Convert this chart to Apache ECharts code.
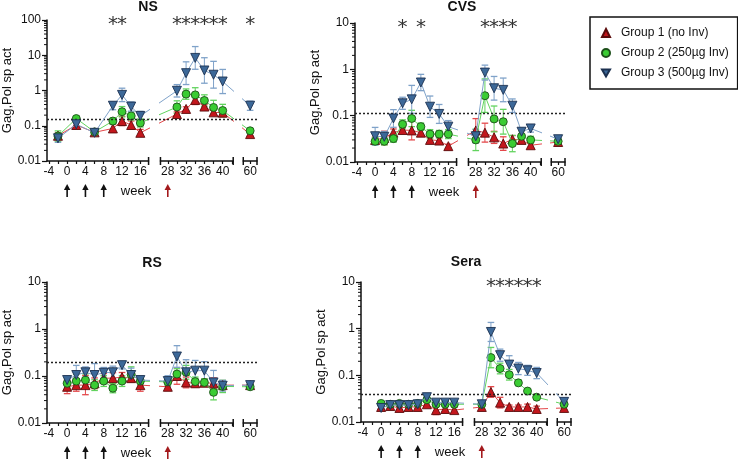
<!DOCTYPE html>
<html><head><meta charset="utf-8">
<script src="https://cdn.jsdelivr.net/npm/echarts@6/dist/echarts.min.js"></script>
<style>html,body{margin:0;padding:0;background:#fff}#c{width:738px;height:460px}</style>
</head><body><div id="c"></div>
<script>
// ---------------- DATA ----------------
const groupNames = ['Group 1 (no Inv)', 'Group 2 (250µg Inv)', 'Group 3 (500µg Inv)'];

const weeksNS = [-2, 2, 6, 10, 12, 14, 16, 30, 32, 34, 36, 38, 40, 60];
const weeksOther = [0, 2, 4, 6, 8, 10, 12, 14, 16, 28, 30, 32, 34, 36, 38, 40, 60];

// NS (means; error = multiplicative spread)
const nsG1 = [0.052, 0.105, 0.065, 0.084, 0.136, 0.105, 0.063, 0.215, 0.30, 0.54, 0.35, 0.24, 0.235, 0.058];
const nsG2 = [0.051, 0.16, 0.067, 0.136, 0.25, 0.19, 0.12, 0.34, 0.79, 0.75, 0.52, 0.33, 0.27, 0.072];
const nsG3 = [0.044, 0.11, 0.063, 0.37, 0.75, 0.35, 0.19, 0.98, 3.1, 8.4, 3.7, 2.8, 1.8, 0.37];
const nsE1 = [1.2, 1.15, 1.1, 1.3, 1.35, 1.3, 1.25, 1.15, 1.15, 1.35, 1.15, 1.2, 1.15, 1.15];
const nsE2 = [1.4, 1.15, 1.15, 1.2, 1.4, 1.3, 1.3, 1.5, 1.4, 1.6, 1.45, 1.6, 1.5, 1.15];
const nsE3 = [1.3, 1.15, 1.1, 1.3, 1.55, 1.35, 1.35, 1.5, 2.1, 2.1, 2.3, 2.4, 2.2, 1.35];

// CVS
const cvsG1 = [0.03, 0.033, 0.043, 0.049, 0.048, 0.043, 0.03, 0.029, 0.022, 0.048, 0.043, 0.034, 0.025, 0.031, 0.03, 0.023, 0.027];
const cvsG2 = [0.028, 0.028, 0.032, 0.065, 0.087, 0.058, 0.04, 0.04, 0.04, 0.03, 0.27, 0.085, 0.074, 0.025, 0.036, 0.03, 0.028];
const cvsG3 = [0.036, 0.035, 0.087, 0.185, 0.225, 0.52, 0.156, 0.109, 0.058, 0.036, 0.85, 0.39, 0.36, 0.164, 0.045, 0.053, 0.031];
const cvsE1 = [1.15, 1.4, 1.2, 1.15, 1.6, 1.15, 1.15, 1.15, 1.1, 1.8, 1.6, 1.35, 1.4, 1.2, 1.2, 1.15, 1.1];
const cvsE2 = [1.2, 1.2, 1.2, 1.25, 1.5, 1.2, 1.25, 1.2, 1.25, 1.7, 2.3, 1.9, 1.85, 1.5, 1.3, 1.2, 1.1];
const cvsE3 = [1.55, 1.3, 1.55, 1.35, 2.0, 1.5, 1.7, 1.6, 1.35, 1.4, 1.45, 1.8, 1.8, 1.4, 1.2, 1.2, 1.1];

// RS
const rsG1 = [0.059, 0.064, 0.064, 0.07, 0.09, 0.09, 0.095, 0.09, 0.064, 0.059, 0.1, 0.073, 0.07, 0.072, 0.07, 0.064, 0.064];
const rsG2 = [0.07, 0.078, 0.082, 0.064, 0.078, 0.055, 0.078, 0.108, 0.078, 0.075, 0.11, 0.12, 0.076, 0.073, 0.045, 0.06, 0.059];
const rsG3 = [0.082, 0.105, 0.12, 0.105, 0.117, 0.12, 0.17, 0.105, 0.082, 0.078, 0.26, 0.12, 0.13, 0.13, 0.073, 0.062, 0.064];
const rsE1 = [1.4, 1.35, 1.6, 1.3, 1.25, 1.3, 1.25, 1.2, 1.35, 1.2, 1.5, 1.3, 1.2, 1.2, 1.3, 1.25, 1.1];
const rsE2 = [1.25, 1.4, 1.35, 1.3, 1.3, 1.25, 1.3, 1.45, 1.2, 1.2, 1.3, 1.4, 1.25, 1.2, 1.45, 1.35, 1.1];
const rsE3 = [1.2, 1.6, 1.3, 1.75, 1.3, 1.35, 1.2, 1.4, 1.2, 1.3, 1.7, 1.85, 1.65, 1.55, 1.8, 1.3, 1.1];

// Sera
const seraG1 = [0.021, 0.022, 0.02, 0.021, 0.021, 0.024, 0.018, 0.019, 0.018, 0.021, 0.044, 0.026, 0.021, 0.021, 0.021, 0.019, 0.02];
const seraG2 = [0.025, 0.024, 0.025, 0.024, 0.025, 0.03, 0.024, 0.024, 0.024, 0.024, 0.24, 0.14, 0.103, 0.069, 0.046, 0.034, 0.024];
const seraG3 = [0.02, 0.023, 0.023, 0.023, 0.024, 0.034, 0.026, 0.026, 0.026, 0.024, 0.85, 0.27, 0.17, 0.14, 0.128, 0.112, 0.027];
const seraE1 = [1.1, 1.1, 1.1, 1.1, 1.1, 1.1, 1.25, 1.15, 1.15, 1.1, 1.3, 1.3, 1.1, 1.1, 1.15, 1.15, 1.1];
const seraE2 = [1.1, 1.1, 1.1, 1.1, 1.1, 1.15, 1.1, 1.1, 1.1, 1.1, 1.65, 1.3, 1.3, 1.15, 1.1, 1.1, 1.1];
const seraE3 = [1.1, 1.1, 1.1, 1.1, 1.1, 1.1, 1.1, 1.1, 1.1, 1.1, 1.6, 1.35, 1.55, 1.35, 1.28, 1.32, 1.1];

const thresholds = [0.15, 0.11, 0.2, 0.04];
const starsNS = [10, 12, 30, 32, 34, 36, 38, 40, 60];
const starsCVS = [6, 10, 30, 32, 34, 36];
const starsRS = [];
const starsSera = [30, 32, 34, 36, 38, 40];
const primeWeeks = [0, 4, 8];
const boostWeeks = [28];
const yTickLabels = ['0.01', '0.1', '1', '10', '100'];
const xTickLabels = [[-4, 0, 4, 8, 12, 16], [28, 32, 36, 40], [60]];

// ---------------- STRUCTURE ----------------
const panels = [
  {title: 'NS', weeks: weeksNS, vals: [nsG1, nsG2, nsG3], errs: [nsE1, nsE2, nsE3], thr: thresholds[0], stars: starsNS, max: 100},
  {title: 'CVS', weeks: weeksOther, vals: [cvsG1, cvsG2, cvsG3], errs: [cvsE1, cvsE2, cvsE3], thr: thresholds[1], stars: starsCVS, max: 10},
  {title: 'RS', weeks: weeksOther, vals: [rsG1, rsG2, rsG3], errs: [rsE1, rsE2, rsE3], thr: thresholds[2], stars: starsRS, max: 10},
  {title: 'Sera', weeks: weeksOther, vals: [seraG1, seraG2, seraG3], errs: [seraE1, seraE2, seraE3], thr: thresholds[3], stars: starsSera, max: 10}
];
const layout = [
  {left: 47, top: 20, height: 141, titleX: 148, titleY: 7},
  {left: 355, top: 23, height: 139, titleX: 462, titleY: 7},
  {left: 47, top: 282, height: 141, titleX: 152, titleY: 263},
  {left: 361, top: 282, height: 140, titleX: 466, titleY: 262}
];
const PANEL_W = 210;
// axis break segments (weeks) and their shift into the compressed display axis
const segs = [
  {w0: -4.4, w1: 17.8, off: 0, ticks: [-4, -2, 0, 2, 4, 6, 8, 10, 12, 14, 16], caps: ['none', 'rect']},
  {w0: 26.4, w1: 42.3, off: -6, ticks: [28, 30, 32, 34, 36, 38, 40, 42], caps: ['rect', 'rect']},
  {w0: 58.5, w1: 61.5, off: -20, ticks: [60], caps: ['rect', 'rect']}
];
function toD(w) { return w <= 20 ? w : (w <= 50 ? w - 6 : w - 20); }
const D0 = toD(segs[0].w0), D1 = segs[2].w1 + segs[2].off;
const PPU = PANEL_W / (D1 - D0);

const FONT = 'Liberation Sans, Arial, sans-serif';
const fillC = ['#C3161C', '#3ACC33', '#3C6898'];
const borderC = ['#5a0b0b', '#1d4f1a', '#1c3150'];
const lineC = ['#E4484B', '#62D35E', '#7FA2C9'];
const symbols = ['triangle', 'circle', 'triangle'];
const symRot = [0, 0, 180];
const symSize = [9, 8, 9];
const INK = '#111';

function fmtY(v) { return String(Number(Number(v).toPrecision(6))); }

function errRender(color) {
  return function (params, api) {
    const x = api.value(0), m = api.value(1), f = api.value(2);
    const hi = api.coord([x, m * f]), lo = api.coord([x, m / f]);
    const cw = 3.3;
    const st = {stroke: color, lineWidth: 1};
    return {type: 'group', children: [
      {type: 'line', shape: {x1: hi[0], y1: hi[1], x2: lo[0], y2: lo[1]}, style: st},
      {type: 'line', shape: {x1: hi[0] - cw, y1: hi[1], x2: hi[0] + cw, y2: hi[1]}, style: {stroke: color, lineWidth: 1.3}},
      {type: 'line', shape: {x1: lo[0] - cw, y1: lo[1], x2: lo[0] + cw, y2: lo[1]}, style: {stroke: color, lineWidth: 1.3}}
    ]};
  };
}

const grids = [], xAxes = [], yAxes = [], series = [], graphics = [];

panels.forEach((P, pi) => {
  const L = layout[pi];
  segs.forEach((S, si) => {
    const gi = grids.length;
    const d0 = S.w0 + S.off, d1 = S.w1 + S.off;
    grids.push({left: L.left + (d0 - D0) * PPU, top: L.top, width: (d1 - d0) * PPU, height: L.height, containLabel: false, outerBoundsMode: 'none'});
    xAxes.push({
      gridIndex: gi, type: 'value', min: d0, max: d1,
      axisLine: {show: true, onZero: false, symbol: S.caps, symbolSize: [8, 1.5], lineStyle: {color: INK, width: 1.5}},
      axisTick: {show: true, customValues: S.ticks.map(w => w + S.off), length: 3, lineStyle: {color: INK, width: 1.2}},
      axisLabel: {show: true, customValues: xTickLabels[si].map(w => w + S.off), formatter: v => String(Math.round(v - S.off)),
        margin: 5, fontSize: 12, color: INK, fontFamily: FONT},
      splitLine: {show: false}
    });
    yAxes.push({
      gridIndex: gi, type: 'log', logBase: 10, min: 0.01, max: P.max, show: si === 0,
      name: si === 0 ? 'Gag,Pol sp act' : '', nameLocation: 'middle', nameGap: 30,
      nameTextStyle: {fontSize: 13, color: INK, fontFamily: FONT},
      axisLine: {show: true, onZero: false, lineStyle: {color: INK, width: 1.5}},
      axisTick: {show: true, length: 5, lineStyle: {color: INK, width: 1.2}},
      axisLabel: {show: true, fontSize: 12, color: INK, fontFamily: FONT, margin: 6,
        formatter: v => { const s = fmtY(v); return yTickLabels.indexOf(s) >= 0 ? s : ''; }},
      splitLine: {show: false}
    });
    [0, 1, 2].forEach(k => {
      const pts = P.weeks.map((w, i) => [toD(w), P.vals[k][i], P.errs[k][i]]);
      series.push({
        type: 'custom', xAxisIndex: gi, yAxisIndex: gi, clip: true, silent: true, z: 2,
        data: pts.filter(p => p[0] >= d0 && p[0] <= d1),
        renderItem: errRender(lineC[k])
      });
      series.push({
        type: 'line', name: groupNames[k], xAxisIndex: gi, yAxisIndex: gi, clip: true, silent: true,
        z: 3 + k, data: pts.map(p => [p[0], p[1]]),
        symbol: symbols[k], symbolRotate: symRot[k], symbolSize: symSize[k], showAllSymbol: true,
        itemStyle: {color: fillC[k], borderColor: borderC[k], borderWidth: 0.9},
        lineStyle: {color: lineC[k], width: 1}
      });
    });
  });
  // overlay grid spanning the whole panel (threshold, stars, arrows, minor y ticks)
  const go = grids.length;
  grids.push({left: L.left, top: L.top, width: PANEL_W, height: L.height, containLabel: false, outerBoundsMode: 'none'});
  xAxes.push({gridIndex: go, type: 'value', min: D0, max: D1, show: false});
  yAxes.push({gridIndex: go, type: 'log', logBase: 10, min: 0.01, max: P.max, show: false});
  series.push({
    type: 'line', xAxisIndex: go, yAxisIndex: go, data: [], silent: true, z: 1,
    markLine: {silent: true, symbol: ['none', 'none'], label: {show: false},
      lineStyle: {color: '#222', width: 1.4, type: [2, 2]}, data: [{yAxis: P.thr}]}
  });
  series.push({
    type: 'custom', xAxisIndex: go, yAxisIndex: go, silent: true, z: 6,
    data: P.stars.map(w => [toD(w)]),
    renderItem: (params, api) => {
      const p = api.coord([api.value(0), P.max]);
      return {type: 'text', x: p[0], y: p[1] + 5, style: {text: '*', fill: '#333', font: '20px DejaVu Sans', align: 'center', verticalAlign: 'middle'}};
    }
  });
  const arrows = primeWeeks.map(w => [toD(w), 0]).concat(boostWeeks.map(w => [toD(w), 1]));
  series.push({
    type: 'custom', xAxisIndex: go, yAxisIndex: go, silent: true, z: 6,
    data: arrows,
    renderItem: (params, api) => {
      const p = api.coord([api.value(0), 0.01]);
      const c = api.value(1) ? '#A3191C' : INK;
      const x = p[0], yb = p[1];
      return {type: 'group', children: [
        {type: 'line', shape: {x1: x, y1: yb + 27, x2: x, y2: yb + 36}, style: {stroke: c, lineWidth: 1.6}},
        {type: 'polygon', shape: {points: [[x, yb + 23], [x - 3.2, yb + 29], [x + 3.2, yb + 29]]}, style: {fill: c}}
      ]};
    }
  });
  const minor = [];
  for (let e = -2; e < Math.round(Math.log10(P.max)); e++) for (let k = 2; k <= 9; k++) minor.push([D0, k * Math.pow(10, e)]);
  series.push({
    type: 'custom', xAxisIndex: go, yAxisIndex: go, silent: true, z: 6, data: minor,
    renderItem: (params, api) => {
      const p = api.coord([api.value(0), api.value(1)]);
      return {type: 'line', shape: {x1: p[0] - 3, y1: p[1], x2: p[0], y2: p[1]}, style: {stroke: INK, lineWidth: 1}};
    }
  });
  graphics.push({type: 'text', x: L.titleX, y: L.titleY, style: {text: P.title, font: 'bold 14px ' + FONT, fill: INK, align: 'center', verticalAlign: 'middle'}});
  graphics.push({type: 'text', x: L.left + 89, y: L.top + L.height + 30, style: {text: 'week', font: '13px ' + FONT, fill: INK, align: 'center', verticalAlign: 'middle'}});
});

const chart = echarts.init(document.getElementById('c'), null, {renderer: 'canvas'});
chart.setOption({
  animation: false,
  backgroundColor: '#fff',
  grid: grids, xAxis: xAxes, yAxis: yAxes, series: series,
  graphic: graphics,
  legend: {
    show: true, orient: 'vertical', left: 590, top: 17,
    padding: [10, 9, 10, 11], itemGap: 8, itemWidth: 8, itemHeight: 8,
    borderColor: '#111', borderWidth: 1.5, selectedMode: false,
    textStyle: {fontSize: 12, color: INK, fontFamily: FONT, padding: [0, 0, 0, 6]},
    data: groupNames.map((n, k) => ({name: n, icon: ['triangle', 'circle', 'path://M0,0L10,0L5,8.66Z'][k]}))
  }
});
</script></body></html>
